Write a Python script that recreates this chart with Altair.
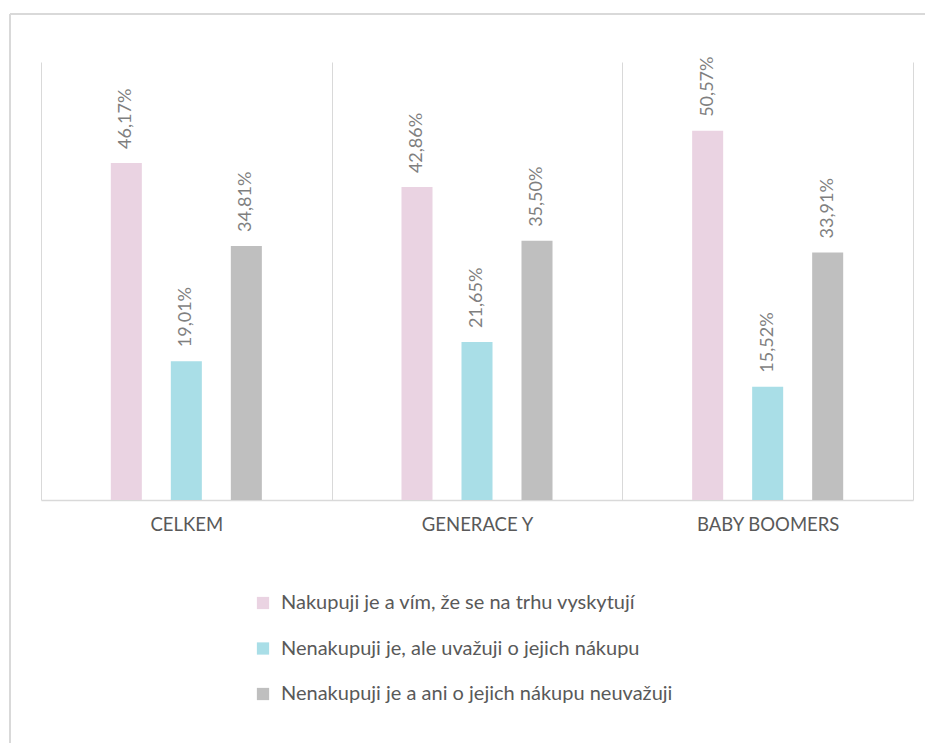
import altair as alt
import pandas as pd

categories = ["CELKEM", "GENERACE Y", "BABY BOOMERS"]
series = [
    "Nakupuji je a vím, že se na trhu vyskytují",
    "Nenakupuji je, ale uvažuji o jejich nákupu",
    "Nenakupuji je a ani o jejich nákupu neuvažuji",
]
vals_s1 = [46.17, 42.86, 50.57]
vals_s2 = [19.01, 21.65, 15.52]
vals_s3 = [34.81, 35.50, 33.91]
colors = ["#EAD3E2", "#A9DEE7", "#BFBFBF"]

rows = []
for s, vals in zip(series, [vals_s1, vals_s2, vals_s3]):
    for c, v in zip(categories, vals):
        rows.append({"kat": c, "serie": s, "val": v,
                     "lab": f"{v:.2f}".replace(".", ",") + "%"})
df = pd.DataFrame(rows)

FONT = "Lato"
W, H = 872, 438

# empty slots on both sides of each group give the wide outer gaps
offset_domain = [" "] + series + ["  "]

x_enc = alt.X(
    "kat:N", sort=categories, title=None,
    scale=alt.Scale(paddingInner=0, paddingOuter=0),
    axis=alt.Axis(labelAngle=0, grid=True, tickBand="extent", gridColor="#d9d9d9",
                  gridWidth=1, domainColor="#d9d9d9", domainWidth=1.5, ticks=False,
                  labelPadding=15, labelFontSize=18.5, labelColor="#595959",
                  labelFont=FONT),
)
xo_enc = alt.XOffset("serie:N",
                     scale=alt.Scale(domain=offset_domain, paddingInner=0.483,
                                     paddingOuter=0.1635))
y_enc = alt.Y("val:Q", scale=alt.Scale(domain=[0, 60]), axis=None)

base = alt.Chart(df)

bars = base.mark_bar().encode(
    x=x_enc, xOffset=xo_enc, y=y_enc,
    color=alt.Color(
        "serie:N", sort=series,
        scale=alt.Scale(domain=series, range=colors),
        legend=alt.Legend(orient="none", legendX=212, legendY=531, title=None,
                          direction="vertical", symbolType="square", symbolSize=150,
                          symbolStrokeWidth=0, labelFontSize=20, labelColor="#595959",
                          labelFont=FONT, rowPadding=25.5, labelOffset=8, labelLimit=700),
    ),
)

labels = base.mark_text(angle=270, align="left", baseline="middle", dx=14,
                        fontSize=18, color="#7f7f7f", font=FONT).encode(
    x=x_enc, xOffset=xo_enc, y=y_enc, text="lab:N",
)

frame_top = alt.Chart(df).mark_rule(color="#d9d9d9", strokeWidth=2).encode(
    x=alt.value(-31), x2=alt.value(950), y=alt.value(-48))
frame_left = alt.Chart(df).mark_rule(color="#d9d9d9", strokeWidth=2).encode(
    x=alt.value(-31), y=alt.value(-48), y2=alt.value(700))

chart = alt.layer(frame_top, frame_left, bars, labels).properties(
    width=W, height=H,
    autosize=alt.AutoSizeParams(type="none"),
    padding={"left": 41, "top": 62, "right": 12, "bottom": 243},
).configure(background="white", view=alt.ViewConfig(stroke="transparent", strokeWidth=0))

chart.save("out.html", embed_options={"renderer": "svg", "actions": False})
